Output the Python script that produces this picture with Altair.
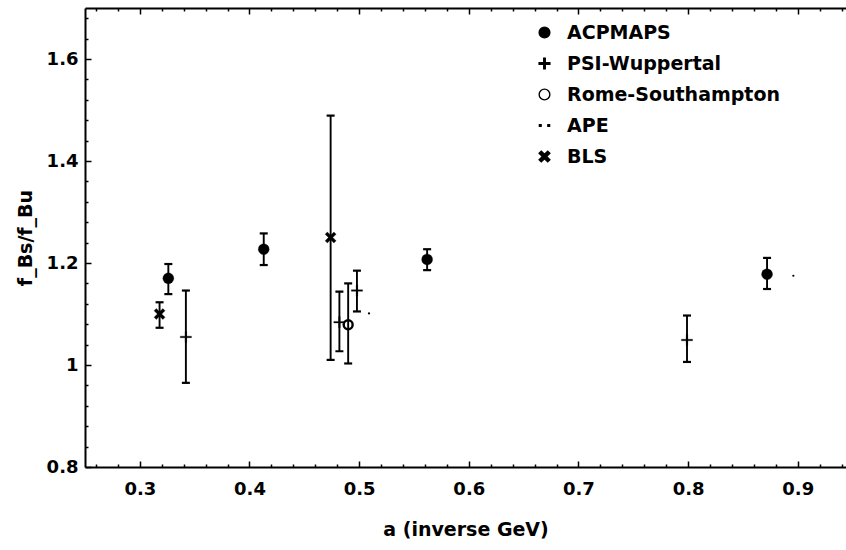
import altair as alt
import pandas as pd

# ---- data ----
series = ["ACPMAPS", "PSI-Wuppertal", "Rome-Southampton", "APE", "BLS"]

acp_a = [0.326, 0.413, 0.562, 0.872]
acp_f = [1.170, 1.227, 1.207, 1.178]
acp_lo = [1.139, 1.196, 1.186, 1.149]
acp_hi = [1.198, 1.258, 1.227, 1.210]

psi_a = [0.342, 0.482, 0.498, 0.799]
psi_f = [1.055, 1.084, 1.146, 1.049]
psi_lo = [0.965, 1.027, 1.105, 1.006]
psi_hi = [1.146, 1.144, 1.185, 1.097]

rome_a = [0.490]
rome_f = [1.079]
rome_lo = [1.003]
rome_hi = [1.160]

bls_a = [0.318, 0.474]
bls_f = [1.100, 1.250]
bls_lo = [1.073, 1.010]
bls_hi = [1.123, 1.489]

ape_a = [0.509, 0.896]
ape_f = [1.101, 1.175]

x_major = [0.3, 0.4, 0.5, 0.6, 0.7, 0.8, 0.9]
y_major = [0.8, 1.0, 1.2, 1.4, 1.6]
x_minor = [0.26, 0.28, 0.32, 0.34, 0.36, 0.38, 0.42, 0.44, 0.46, 0.48,
           0.52, 0.54, 0.56, 0.58, 0.62, 0.64, 0.66, 0.68, 0.72, 0.74,
           0.76, 0.78, 0.82, 0.84, 0.86, 0.88, 0.92, 0.94]
y_minor = [0.84, 0.88, 0.92, 0.96, 1.04, 1.08, 1.12, 1.16, 1.24, 1.28,
           1.32, 1.36, 1.44, 1.48, 1.52, 1.56, 1.64, 1.68]

# ---- tables ----
rows = []
for name, A, F, LO, HI in [
    ("ACPMAPS", acp_a, acp_f, acp_lo, acp_hi),
    ("PSI-Wuppertal", psi_a, psi_f, psi_lo, psi_hi),
    ("Rome-Southampton", rome_a, rome_f, rome_lo, rome_hi),
    ("BLS", bls_a, bls_f, bls_lo, bls_hi),
]:
    for a, f, lo, hi in zip(A, F, LO, HI):
        rows.append({"series": name, "a": a, "f": f, "lo": lo, "hi": hi})
df = pd.DataFrame(rows)
ape = pd.DataFrame({"series": "APE", "a": ape_a, "f": ape_f})

W, H = 761, 459
FONT = "DejaVu Sans"

xscale = alt.Scale(domain=[0.25, 0.944], nice=False, zero=False)
yscale = alt.Scale(domain=[0.8, 1.7], nice=False, zero=False)

plus_path = "M-0.14,-1H0.14V-0.14H1V0.14H0.14V1H-0.14V0.14H-1V-0.14H-0.14Z"
x_path = "M-1,-0.6L-0.6,-1L0,-0.4L0.6,-1L1,-0.6L0.4,0L1,0.6L0.6,1L0,0.4L-0.6,1L-1,0.6L-0.4,0Z"
dots_path = "M-0.95,-0.16H-0.63V0.16H-0.95ZM0.63,-0.16H0.95V0.16H0.63Z"
shapes = ["circle", plus_path, "circle", dots_path, x_path]
fills = ["black", "black", "transparent", "black", "black"]
strokes = ["black", "black", "black", "black", "black"]

shape_scale = alt.Scale(domain=series, range=shapes)
fill_scale = alt.Scale(domain=series, range=fills)
stroke_scale = alt.Scale(domain=series, range=strokes)


def tick_axis(orient, offset, values, size, domain=False):
    return alt.Axis(orient=orient, offset=offset, values=values, labels=False,
                    domain=domain, domainColor="black", domainWidth=2,
                    ticks=True, tickSize=size, tickWidth=1.5, tickColor="black",
                    grid=False, title=None)


main_x_axis = alt.Axis(orient="bottom", values=x_major, format=".1f", ticks=False,
                       domain=True, domainColor="black", domainWidth=2, grid=False,
                       labelFont=FONT, labelFontSize=18, labelFontWeight="bold",
                       labelColor="black", labelPadding=13,
                       title="a (inverse GeV)", titleFont=FONT, titleFontSize=19,
                       titleFontWeight="bold", titleColor="black", titlePadding=22)
main_y_axis = alt.Axis(orient="left", values=y_major, format=".1~f", ticks=False,
                       domain=True, domainColor="black", domainWidth=2, grid=False,
                       labelFont=FONT, labelFontSize=18, labelFontWeight="bold",
                       labelColor="black", labelPadding=7,
                       title="f_Bs/f_Bu", titleFont=FONT, titleFontSize=19,
                       titleFontWeight="bold", titleColor="black", titlePadding=11)

bars = alt.Chart(df).mark_rule(color="black", strokeWidth=1.9).encode(
    x=alt.X("a:Q", scale=xscale, axis=main_x_axis),
    y=alt.Y("lo:Q", scale=yscale, axis=main_y_axis),
    y2="hi:Q",
)

caps_lo = alt.Chart(df).mark_tick(color="black", orient="horizontal", size=8, thickness=2.2, opacity=1).encode(
    x=alt.X("a:Q", scale=xscale, axis=tick_axis("top", -H, x_major, 6)),
    y=alt.Y("lo:Q", scale=yscale, axis=tick_axis("right", -W, y_major, 6)),
)

caps_hi = alt.Chart(df).mark_tick(color="black", orient="horizontal", size=8, thickness=2.2, opacity=1).encode(
    x=alt.X("a:Q", scale=xscale, axis=tick_axis("top", -H, x_minor, 3)),
    y=alt.Y("hi:Q", scale=yscale, axis=tick_axis("right", -W, y_minor, 3)),
)

legend = alt.Legend(orient="none", legendX=450, legendY=15, title=None,
                    labelFont=FONT, labelFontSize=19, labelFontWeight="bold",
                    labelColor="black", labelOffset=13, labelLimit=400,
                    rowPadding=11, symbolSize=115, symbolStrokeColor="black",
                    symbolStrokeWidth=1.4)


def series_points(name, size, sw, x_axis):
    return alt.Chart(df).transform_filter(alt.datum.series == name).mark_point(
        strokeWidth=sw, size=size, opacity=1
    ).encode(
        x=alt.X("a:Q", scale=xscale, axis=x_axis),
        y=alt.Y("f:Q", scale=yscale, axis=None),
        shape=alt.Shape("series:N", scale=shape_scale, legend=legend),
        fill=alt.Fill("series:N", scale=fill_scale, legend=legend),
        stroke=alt.Stroke("series:N", scale=stroke_scale, legend=legend),
    )


p_acp = series_points("ACPMAPS", 120, 0.3, tick_axis("bottom", -H, x_major, 6, domain=True))
p_psi = series_points("PSI-Wuppertal", 125, 0.3, None)
p_rome = series_points("Rome-Southampton", 80, 2.4, None)
p_bls = series_points("BLS", 120, 0.3, None)

ape_pts = alt.Chart(ape).mark_circle(color="black", size=5, opacity=1).encode(
    x=alt.X("a:Q", scale=xscale, axis=tick_axis("bottom", -H, x_minor, 3)),
    y=alt.Y("f:Q", scale=yscale, axis=None),
)

chart = alt.layer(bars, caps_lo, caps_hi, p_acp, p_psi, p_rome, p_bls, ape_pts).resolve_axis(
    x="independent", y="independent"
).properties(
    width=W, height=H,
    padding={"left": 85, "top": 8, "right": 0, "bottom": 83},
    autosize="none", background="white",
).configure_view(stroke=None)

chart.save("out.html", embed_options={"renderer": "svg", "actions": False})
